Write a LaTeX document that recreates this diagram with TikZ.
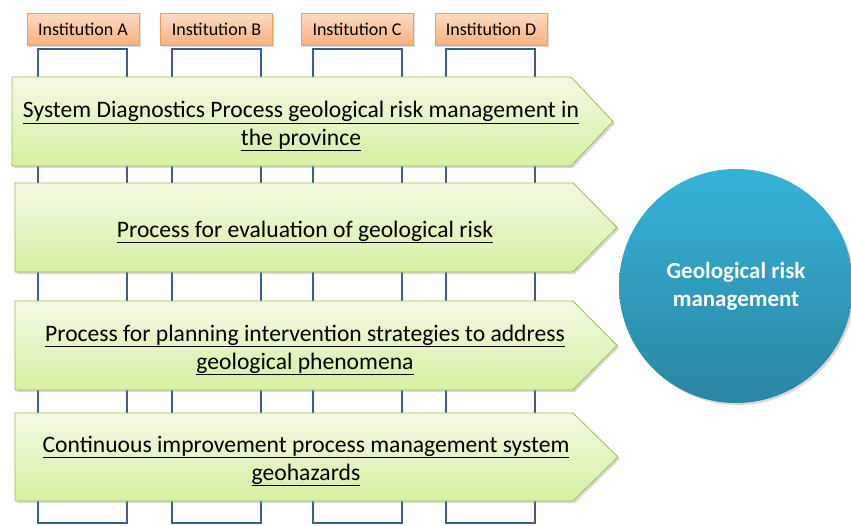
\documentclass[tikz,border=0pt]{standalone}
\usepackage{fontspec}
\setmainfont{Carlito}
\usetikzlibrary{shadows}
\definecolor{brk}{HTML}{3B5E8F}
\definecolor{instTop}{HTML}{FDDCC4}
\definecolor{instBot}{HTML}{FAB07E}
\definecolor{instLine}{HTML}{F59A5A}
\definecolor{grTop}{HTML}{F2FAE3}
\definecolor{grBot}{HTML}{D6F0A2}
\definecolor{grLine}{HTML}{9BBB59}
\definecolor{ciTop}{HTML}{36B2D8}
\definecolor{ciBot}{HTML}{2A86A3}
\tikzset{
  bracket/.style={draw=brk, line width=1.6pt},
  inst/.style={draw=instLine, line width=0.8pt, top color=instTop, bottom color=instBot,
    minimum width=112pt, minimum height=32pt, inner sep=0pt, font=\fontsize{18}{20}\selectfont,
    drop shadow={shadow xshift=1.5pt, shadow yshift=-1.5pt, opacity=0.25}},
  procbox/.style={draw=grLine, line width=0.8pt, top color=grTop, bottom color=grBot,
    drop shadow={shadow xshift=2pt, shadow yshift=-2pt, opacity=0.3}},
  proctext/.style={align=center, inner sep=0pt, font=\fontsize{23.6}{28}\selectfont},
  goal/.style={circle, minimum size=234pt, top color=ciTop, bottom color=ciBot, inner sep=0pt,
    text=white, align=center, font=\bfseries\fontsize{23}{28}\selectfont,
    drop shadow={shadow xshift=2pt, shadow yshift=-2pt, opacity=0.3}}
}
\begin{document}
\begin{tikzpicture}[x=1pt,y=-1pt]
\useasboundingbox (0,0) rectangle (851,525);
% brackets
\foreach \l/\r in {38/127,172/261,313/402,446/535}{
  \draw[bracket] (\l,49) rectangle (\r,523);
}
% institutions
\node[inst] (ia) at (83,29) {Institution A};
\node[inst] (ib) at (216.5,29) {Institution B};
\node[inst] (ic) at (357,29) {Institution C};
\node[inst] (id) at (491,29) {Institution D};
% process arrows
\path[procbox] (12,77) -- (571,77) -- (613,121.5) -- (571,166) -- (12,166) -- cycle;
\path[procbox] (15,183) -- (573,183) -- (617,227.5) -- (573,272) -- (15,272) -- cycle;
\path[procbox] (15,301) -- (573,301) -- (617,345.5) -- (573,390) -- (15,390) -- cycle;
\path[procbox] (15,413) -- (573,413) -- (618,457) -- (573,501) -- (15,501) -- cycle;
\node[proctext] (p1) at (301,126) {\underline{System Diagnostics Process geological risk management in}\\\underline{the province}};
\node[proctext] (p2) at (305,232) {\underline{Process for evaluation of geological risk}};
\node[proctext] (p3) at (305,350) {\underline{Process for planning intervention strategies to address}\\\underline{geological phenomena}};
\node[proctext] (p4) at (306,461) {\underline{Continuous improvement process management system}\\\underline{geohazards}};
% goal
\node[goal] (g) at (736,286) {Geological risk\\management};
\end{tikzpicture}
\end{document}
